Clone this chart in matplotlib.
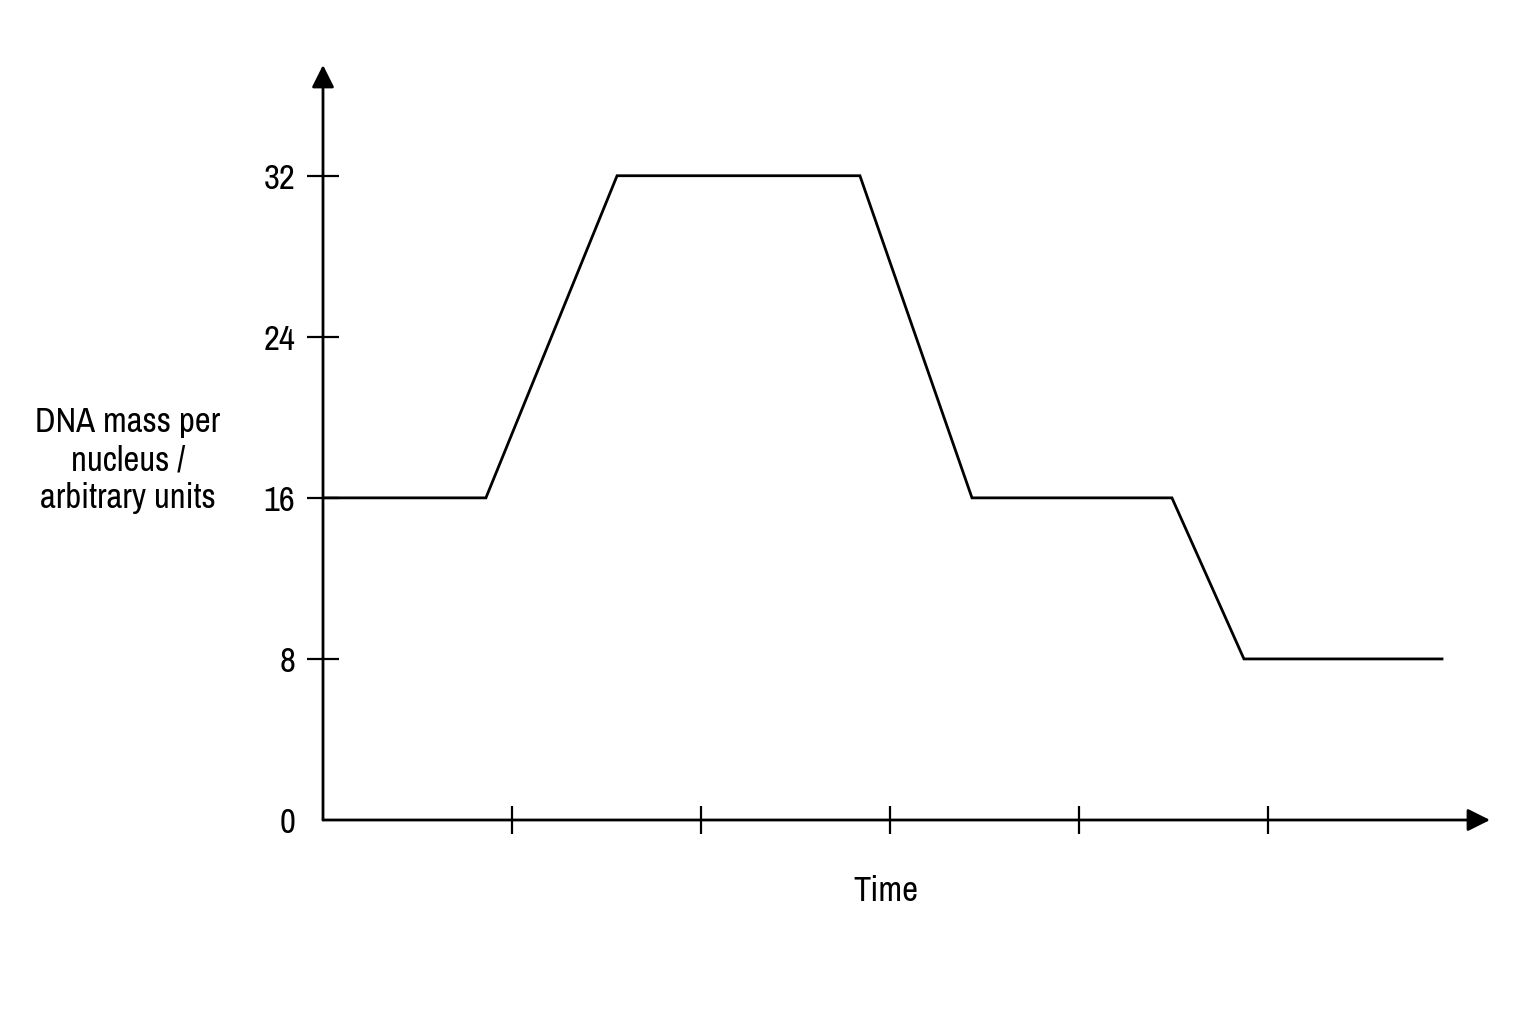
import matplotlib
matplotlib.use('Agg')
import matplotlib.pyplot as plt
from matplotlib import font_manager

# data (time in tick units)
time = [0, 0.862, 1.556, 2.841, 3.434, 4.492, 4.873, 5.921]
dna_mass = [16, 16, 32, 32, 16, 16, 8, 8]
y_ticks = [0, 8, 16, 24, 32]
x_ticks = [1, 2, 3, 4, 5]

# the reference uses an Arial Narrow look; take a narrow sans if one is installed
narrow = [f.name for f in font_manager.fontManager.ttflist
          if ('Narrow' in f.name or 'Condensed' in f.name) and 'Serif' not in f.name]
if narrow:
    fam, fs, ls = sorted(narrow)[0], 25, 1.24
else:
    fam, fs, ls = 'Liberation Sans', 22, 1.27
plt.rcParams['font.family'] = [fam, 'DejaVu Sans']

fig = plt.figure(figsize=(15.36, 10.24), dpi=100)
ax = fig.add_axes([323 / 1536, 1 - 820 / 1024, (1490 - 323) / 1536, (820 - 65) / 1024])

ax.plot(time, dna_mass, color='black', lw=2.0, solid_joinstyle='miter')

ax.set_xlim(0, 6.175)
ax.set_ylim(0, 37.5)

for s in ax.spines.values():
    s.set_visible(False)

# axis lines with arrow heads
arrow = dict(arrowstyle='-|>', lw=2.0, color='black', mutation_scale=34, shrinkA=0, shrinkB=0)
ax.annotate('', xy=(1, 0), xytext=(0, 0), xycoords='axes fraction', arrowprops=arrow)
ax.annotate('', xy=(0, 1), xytext=(0, 0), xycoords='axes fraction', arrowprops=arrow)

ax.set_yticks(y_ticks)
ax.set_yticklabels([str(v) for v in y_ticks], fontsize=fs)
ax.tick_params(axis='y', direction='inout', length=23, width=1.6, pad=8.5)
ax.yaxis.get_major_ticks()[0].tick1line.set_visible(False)

ax.set_xticks(x_ticks)
ax.set_xticklabels([])
ax.tick_params(axis='x', direction='inout', length=20, width=1.6)

fig.text(128 / 1536, 1 - 460 / 1024, 'DNA mass per\nnucleus /\narbitrary units',
         ha='center', va='center', multialignment='center', fontsize=fs, linespacing=ls)
fig.text(886 / 1536, 1 - 891 / 1024, 'Time', ha='center', va='center', fontsize=fs)

fig.savefig('out.png', dpi=100, facecolor='white')
